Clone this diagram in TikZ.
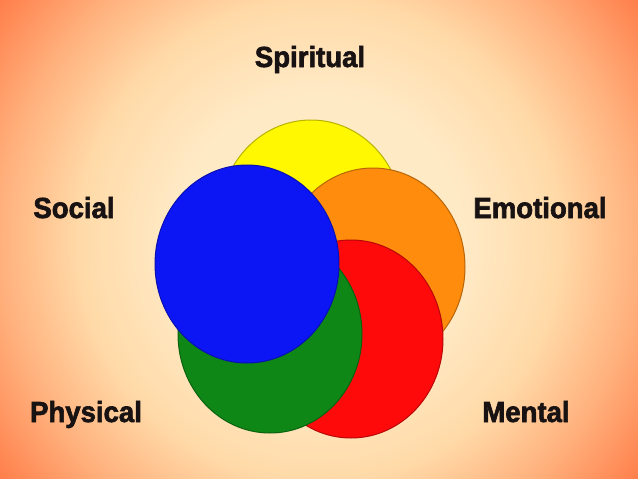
\documentclass[tikz,border=0pt]{standalone}
\usepackage{fontspec}
\setmainfont{Liberation Sans}
\newfontfamily\heavyfont{Liberation Sans}[BoldFeatures={FakeBold=2.2,FakeStretch=0.95}]
\usepackage{tikz}
\usetikzlibrary{positioning}

\definecolor{bgcream}{RGB}{255,234,198}
\definecolor{bglight}{RGB}{255,218,168}
\definecolor{bgmid}{RGB}{255,176,124}
\definecolor{bgedge}{RGB}{255,126,74}
\definecolor{cyellow}{RGB}{255,248,0}
\definecolor{corange}{RGB}{255,140,12}
\definecolor{cred}{RGB}{255,10,10}
\definecolor{cgreen}{RGB}{14,135,22}
\definecolor{cblue}{RGB}{12,22,245}
\definecolor{labelink}{RGB}{24,18,18}

\pgfdeclareradialshading{bgglow}{\pgfpoint{0bp}{0bp}}{%
  color(0bp)=(bgcream); color(9bp)=(bgcream); color(15bp)=(bglight);
  color(20bp)=(bgmid); color(25bp)=(bgedge); color(50bp)=(bgedge)}

\tikzset{
  aspect/.style={font=\heavyfont\fontsize{29}{34}\selectfont\bfseries,
    text=labelink, anchor=base, inner sep=0pt},
  disc/.style={line width=1pt}
}

\begin{document}
\begin{tikzpicture}[x=1pt,y=-1pt]
    \begin{scope}
        \clip (0,0) rectangle (638,479);
        \shade[shading=bgglow] (-81,-160) rectangle (719,640);
    \end{scope}
    \useasboundingbox (0,0) rectangle (638,479);

    % circles, back to front
    \foreach \cx/\cy/\col in {311/219/cyellow, 373/267/corange,
        351/339/cred, 270/334/cgreen, 247/264/cblue}
        \filldraw[disc, fill=\col, draw=\col!72!black]
            (\cx,\cy) ellipse [x radius=92, y radius=99];

    % labels
    \node[aspect] (spiritual) at (310,67) {Spiritual};
    \node[aspect] (social) at (74,218) {Social};
    \node[aspect] (emotional) at (540,218) {Emotional};
    \node[aspect] (physical) at (86,422) {Physical};
    \node[aspect] (mental) at (526,422) {Mental};
\end{tikzpicture}
\end{document}
